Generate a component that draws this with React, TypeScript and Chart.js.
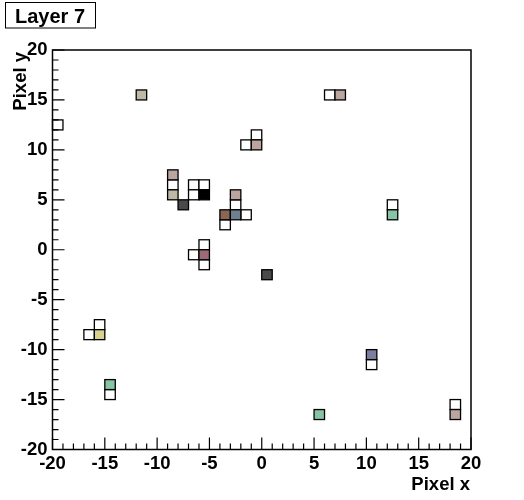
import React, { useEffect, useRef } from 'react';
import { Chart, registerables } from 'chart.js';

Chart.register(...registerables);

const TITLE = 'Layer 7';
const X_LABEL = 'Pixel x';
const Y_LABEL = 'Pixel y';
const AXIS_MIN = -20;
const AXIS_MAX = 20;
const MAJOR_STEP = 5;

// Hit pixels (bin centres), grouped by fill colour
const whiteX = [-19.5, -1.5, -0.5, -8.5, -6.5, -5.5, -6.5, -2.5, -1.5, -3.5, -5.5, -6.5, -5.5, 6.5, 12.5, -15.5, -16.5, -14.5, 10.5, 18.5];
const whiteY = [12.5, 10.5, 11.5, 6.5, 6.5, 6.5, 5.5, 4.5, 3.5, 2.5, 0.5, -0.5, -1.5, 15.5, 4.5, -7.5, -8.5, -14.5, -11.5, -15.5];
const greigeX = [-11.5, -8.5];
const greigeY = [15.5, 5.5];
const taupeX = [-0.5, -8.5, -2.5, 7.5, 18.5];
const taupeY = [10.5, 7.5, 5.5, 15.5, -16.5];
const darkX = [-7.5, 0.5];
const darkY = [4.5, -2.5];
const blackX = [-5.5];
const blackY = [5.5];
const brownX = [-3.5];
const brownY = [3.5];
const slateX = [-2.5];
const slateY = [3.5];
const mauveX = [-5.5];
const mauveY = [-0.5];
const greenX = [12.5, -14.5, 5.5];
const greenY = [3.5, -13.5, -16.5];
const oliveX = [-15.5];
const oliveY = [-8.5];
const purpleX = [10.5];
const purpleY = [-10.5];

const groups = [
  { name: 'white', xs: whiteX, ys: whiteY, color: '#ffffff' },
  { name: 'greige', xs: greigeX, ys: greigeY, color: '#bdb9a5' },
  { name: 'taupe', xs: taupeX, ys: taupeY, color: '#bba59f' },
  { name: 'dark', xs: darkX, ys: darkY, color: '#4a4a4a' },
  { name: 'black', xs: blackX, ys: blackY, color: '#000000' },
  { name: 'brown', xs: brownX, ys: brownY, color: '#8b6654' },
  { name: 'slate', xs: slateX, ys: slateY, color: '#6e7f8f' },
  { name: 'mauve', xs: mauveX, ys: mauveY, color: '#9b6a76' },
  { name: 'green', xs: greenX, ys: greenY, color: '#86c4a4' },
  { name: 'olive', xs: oliveX, ys: oliveY, color: '#d6d28e' },
  { name: 'purple', xs: purpleX, ys: purpleY, color: '#7d7d9e' },
];

const FONT = '"Liberation Sans", Arial, Helvetica, sans-serif';

const histPlugin = {
  id: 'histCells',
  afterDatasetsDraw(chart: any) {
    const { ctx, chartArea: a } = chart;
    const xs = chart.scales.x;
    const ys = chart.scales.y;
    const hw = Math.abs(xs.getPixelForValue(1) - xs.getPixelForValue(0)) / 2;
    const hh = Math.abs(ys.getPixelForValue(0) - ys.getPixelForValue(1)) / 2;
    ctx.save();
    chart.data.datasets.forEach((ds: any, i: number) => {
      const meta = chart.getDatasetMeta(i);
      meta.data.forEach((el: any) => {
        ctx.fillStyle = ds.backgroundColor;
        ctx.fillRect(el.x - hw, el.y - hh, 2 * hw, 2 * hh);
        ctx.strokeStyle = '#000';
        ctx.lineWidth = 1.3;
        ctx.strokeRect(el.x - hw, el.y - hh, 2 * hw, 2 * hh);
      });
    });
    // frame
    ctx.strokeStyle = '#000';
    ctx.lineWidth = 1.5;
    ctx.strokeRect(a.left, a.top, a.right - a.left, a.bottom - a.top);
    // ticks (inside)
    ctx.lineWidth = 1.2;
    ctx.beginPath();
    for (let v = AXIS_MIN; v <= AXIS_MAX; v++) {
      const len = v % MAJOR_STEP === 0 ? 12 : 6;
      const px = xs.getPixelForValue(v);
      ctx.moveTo(px, a.bottom);
      ctx.lineTo(px, a.bottom - len);
      const py = ys.getPixelForValue(v);
      ctx.moveTo(a.left, py);
      ctx.lineTo(a.left + len, py);
    }
    ctx.stroke();
    // axis titles
    ctx.fillStyle = '#000';
    ctx.font = `bold 18.5px ${FONT}`;
    ctx.textAlign = 'right';
    ctx.textBaseline = 'alphabetic';
    ctx.fillText(X_LABEL, a.right - 1, 490);
    ctx.save();
    ctx.translate(25.5, a.top + 2);
    ctx.rotate(-Math.PI / 2);
    ctx.textAlign = 'right';
    ctx.fillText(Y_LABEL, 0, 0);
    ctx.restore();
    // title box
    ctx.fillStyle = '#fff';
    ctx.fillRect(5, 2, 91, 26);
    ctx.lineWidth = 1;
    ctx.strokeStyle = '#000';
    ctx.strokeRect(5.5, 2.5, 90, 25.5);
    ctx.fillStyle = '#000';
    ctx.font = `bold 20px ${FONT}`;
    ctx.textAlign = 'center';
    ctx.fillText(TITLE, 50, 22.5);
    ctx.restore();
  },
};

export default function App() {
  const ref = useRef<HTMLCanvasElement | null>(null);
  useEffect(() => {
    if (!ref.current) return;
    const tickFont = { family: FONT, size: 18.5, weight: 'bold' as const };
    const chart = new Chart(ref.current, {
      type: 'scatter',
      data: {
        datasets: groups.map((g) => ({
          label: g.name,
          data: g.xs.map((x, i) => ({ x, y: g.ys[i] })),
          backgroundColor: g.color,
          pointRadius: 0,
          pointHoverRadius: 0,
        })),
      },
      options: {
        responsive: false,
        animation: false,
        layout: { padding: { top: 50, right: 53, left: 0, bottom: 0 } },
        plugins: { legend: { display: false }, tooltip: { enabled: false }, title: { display: false } },
        scales: {
          x: {
            type: 'linear',
            min: AXIS_MIN,
            max: AXIS_MAX,
            grid: { display: false, drawTicks: false },
            border: { display: false },
            ticks: { stepSize: MAJOR_STEP, font: tickFont, color: '#000', padding: 3, maxRotation: 0, autoSkip: false },
            afterFit: (s: any) => { s.height = 50.5; },
          },
          y: {
            type: 'linear',
            min: AXIS_MIN,
            max: AXIS_MAX,
            grid: { display: false, drawTicks: false },
            border: { display: false },
            ticks: { stepSize: MAJOR_STEP, font: tickFont, color: '#000', padding: 5, autoSkip: false },
            afterFit: (s: any) => { s.width = 52.5; },
          },
        },
      },
      plugins: [histPlugin],
    });
    return () => chart.destroy();
  }, []);
  return (
    <div style={{ position: 'absolute', left: 0, top: 0, width: 524, height: 500, background: '#fff' }}>
      <canvas ref={ref} width={524} height={500} />
    </div>
  );
}
